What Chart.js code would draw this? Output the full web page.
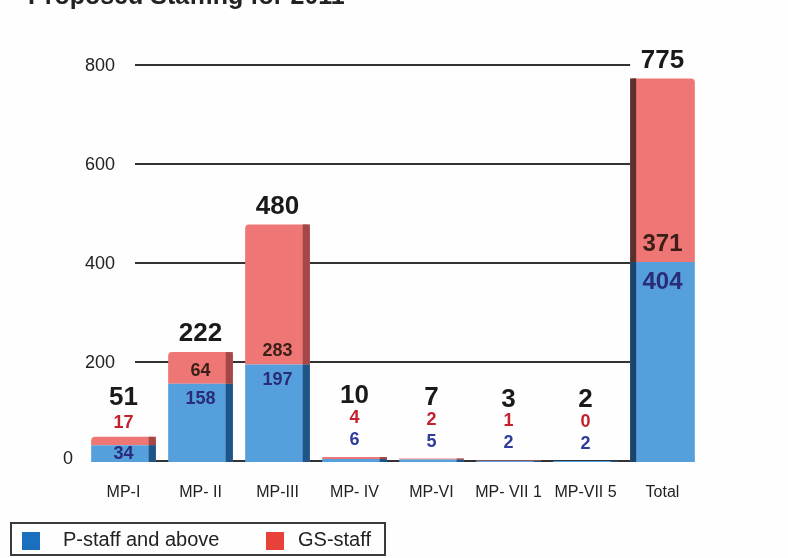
<!DOCTYPE html>
<html>
<head>
<meta charset="utf-8">
<script src="https://cdn.jsdelivr.net/npm/chart.js@4/dist/chart.umd.min.js"></script>
<style>
  html, body { margin: 0; padding: 0; background: #fff; }
  #wrap { position: relative; width: 788px; height: 558px; overflow: hidden; background: #fefefe; }
  #title { position: absolute; left: 28px; top: -19px; font: bold 25px "Liberation Sans", Arial, sans-serif; color: #222; white-space: nowrap; }
  #legend { position: absolute; left: 10px; top: 522px; width: 376px; height: 34px; border: 2px solid #3a3a3a; box-sizing: border-box; font: 20px "Liberation Sans", Arial, sans-serif; color: #222; }
  .sw { position: absolute; top: 8px; width: 18px; height: 18px; }
  .lt { position: absolute; top: 4px; }
</style>
</head>
<body>
<div id="wrap">
  <canvas id="c" width="788" height="558"></canvas>
  <div id="title">Proposed Staffing for 2011</div>
  <div id="legend">
    <div class="sw" style="left:10px;background:#1a6fbf"></div><div class="lt" style="left:51px">P-staff and above</div>
    <div class="sw" style="left:254px;background:#e8413a"></div><div class="lt" style="left:286px">GS-staff</div>
  </div>
</div>
<script>
// Staffing by budget category
const categories = ['MP-I', 'MP- II', 'MP-III', 'MP- IV', 'MP-VI', 'MP- VII 1', 'MP-VII 5', 'Total'];
const pStaff  = [34, 158, 197, 6, 5, 2, 2, 404];
const gsStaff = [17, 64, 283, 4, 2, 1, 0, 371];
const totals  = [51, 222, 480, 10, 7, 3, 2, 775];
const yTicks  = [0, 200, 400, 600, 800];

const FONT = '"Liberation Sans", Arial, sans-serif';

// Horizontal rules and axis numbers, drawn behind the bars
const rules = {
  id: 'rules',
  beforeDatasetsDraw(chart) {
    const ctx = chart.ctx, y = chart.scales.y;
    const last = chart.getDatasetMeta(0).data[categories.length - 1];
    const xEnd = last.x - last.width / 2;
    ctx.save();
    ctx.strokeStyle = '#333';
    ctx.lineWidth = 2;
    ctx.fillStyle = '#222';
    ctx.font = '18px ' + FONT;
    ctx.textBaseline = 'middle';
    ctx.textAlign = 'right';
    yTicks.forEach(v => {
      const py = Math.round(y.getPixelForValue(v)) - 1;
      const x0 = v === 0 ? 98 : 135;
      ctx.beginPath();
      ctx.moveTo(x0, py);
      ctx.lineTo(xEnd, py);
      ctx.stroke();
      ctx.fillText(String(v), v === 0 ? 73 : 115, py + (v === 0 ? -2 : 1));
    });
    ctx.restore();
  }
};

// Darker side strip on each bar for a boxed look
const shade = {
  id: 'shade',
  afterDatasetsDraw(chart) {
    const ctx = chart.ctx;
    const tones = [['#1f5486', '#1d4468'], ['#a34846', '#5a302c']];
    ctx.save();
    [0, 1].forEach(d => {
      chart.getDatasetMeta(d).data.forEach((el, i) => {
        const { x, y, base, width } = el.getProps(['x', 'y', 'base', 'width'], true);
        const h = base - y;
        if (h <= 0) return;
        const isTotal = i === categories.length - 1;
        const sw = isTotal ? 6 : Math.max(4, width * 0.11);
        ctx.fillStyle = tones[d][isTotal ? 1 : 0];
        if (isTotal) ctx.fillRect(x - width / 2, y, sw, h);
        else ctx.fillRect(x + width / 2 - sw, y, sw, h);
      });
    });
    ctx.restore();
  }
};

// Segment values and stack totals
const stackLabels = {
  id: 'stackLabels',
  afterDatasetsDraw(chart) {
    const ctx = chart.ctx;
    const mP = chart.getDatasetMeta(0), mG = chart.getDatasetMeta(1);
    ctx.save();
    ctx.textAlign = 'center';
    ctx.textBaseline = 'middle';
    categories.forEach((cat, i) => {
      const p = mP.data[i], g = mG.data[i];
      const isTotal = i === categories.length - 1;
      const seg = isTotal ? 24 : 18;
      const x = p.x;
      const pH = p.base - p.y;
      const gH = g.base - g.y;
      const top = Math.min(p.y, g.y);
      let cursor = null;
      const above = () => (cursor = cursor === null ? top - 14 : cursor - 22);

      // P-staff value
      if (pH >= 14) {
        ctx.font = 'bold ' + seg + 'px ' + FONT;
        ctx.fillStyle = '#2a2c78';
        ctx.fillText(String(pStaff[i]), x, pH > 36 ? p.y + seg * 0.85 : p.y + pH / 2);
      }
      // GS-staff value
      if (gH >= 24) {
        ctx.font = 'bold ' + seg + 'px ' + FONT;
        ctx.fillStyle = '#3b1f17';
        ctx.fillText(String(gsStaff[i]), x, g.base - seg * 0.72);
      }
      if (pH < 14) {
        ctx.font = 'bold 18px ' + FONT;
        ctx.fillStyle = '#2f3c9c';
        ctx.fillText(String(pStaff[i]), x, above() - 3);
      }
      if (gH < 24) {
        ctx.font = 'bold 18px ' + FONT;
        ctx.fillStyle = '#c4202e';
        ctx.fillText(String(gsStaff[i]), x, above() - (cursor === top - 14 ? 0 : 3));
      }
      ctx.font = 'bold 26px ' + FONT;
      ctx.fillStyle = '#1a1a1a';
      ctx.fillText(String(totals[i]), x, cursor === null ? top - 18 : cursor - 25);
    });
    ctx.restore();
  }
};

new Chart(document.getElementById('c'), {
  type: 'bar',
  data: {
    labels: categories,
    datasets: [
      { label: 'P-staff and above', data: pStaff, backgroundColor: '#559fdc', borderWidth: 0 },
      { label: 'GS-staff', data: gsStaff, backgroundColor: '#ee7674', borderWidth: 0,
        borderRadius: { topLeft: 4, topRight: 4, bottomLeft: 0, bottomRight: 0 }, borderSkipped: 'bottom' }
    ]
  },
  options: {
    responsive: false,
    animation: false,
    events: [],
    layout: { padding: { left: 0, right: 87, top: 66, bottom: 50 } },
    datasets: { bar: { categoryPercentage: 1, barPercentage: 0.84 } },
    plugins: { legend: { display: false }, tooltip: { enabled: false }, title: { display: false } },
    scales: {
      x: {
        stacked: true,
        grid: { display: false },
        border: { display: false },
        ticks: { color: '#222', font: { family: FONT, size: 16 }, padding: 13, maxRotation: 0, autoSkip: false },
        afterFit: s => { s.height = 46; }
      },
      y: {
        stacked: true,
        min: 0, max: 800,
        grid: { display: false },
        border: { display: false },
        ticks: { display: false, stepSize: 200 },
        afterFit: s => { s.width = 85; }
      }
    }
  },
  plugins: [rules, shade, stackLabels]
});
</script>
</body>
</html>
